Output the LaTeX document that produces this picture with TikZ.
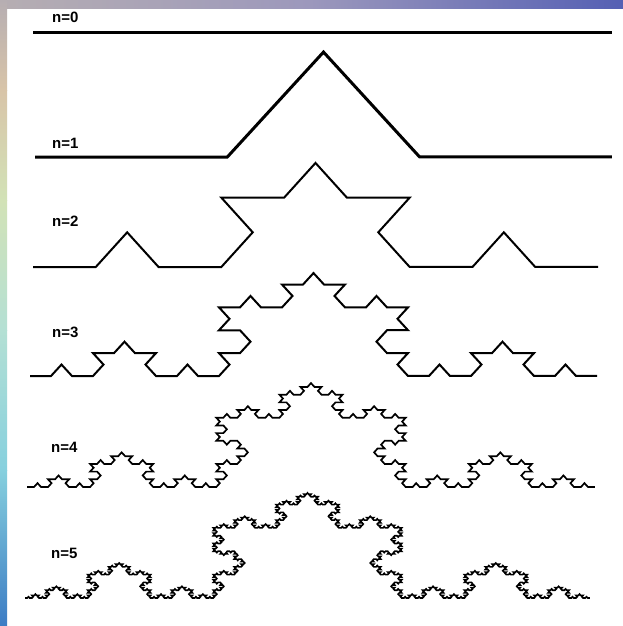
\documentclass[tikz,border=0pt]{standalone}
\usetikzlibrary{lindenmayersystems, positioning}
\usepackage{fontspec}
\setsansfont{Liberation Sans}
\definecolor{stripgray}{HTML}{B6AEB2}
\definecolor{striptan}{HTML}{D8C4A8}
\definecolor{stripgreen}{HTML}{D2E2B6}
\definecolor{stripmint}{HTML}{B4E0D4}
\definecolor{stripcyan}{HTML}{86D0DE}
\definecolor{stripblue}{HTML}{3C7CC4}
\definecolor{toplilac}{HTML}{9C98BC}
\definecolor{topblue}{HTML}{5560B4}

\pgfdeclarelindenmayersystem{Koch curve}{\rule{F -> F+F--F+F}}

\tikzset{
  lvl/.style={font=\sffamily\bfseries\fontsize{15}{15}\selectfont, inner sep=0pt, anchor=west},
  koch/.style={line width=#1, line join=miter, black},
  koch/.default=2pt,
}

\begin{document}
\begin{tikzpicture}[x=1pt, y=-1pt]
  \useasboundingbox (0,0) rectangle (623,626);

  % Frame
  \fill[white] (0,0) rectangle (623,626);
  \shade[left color=stripgray, right color=toplilac] (0,0) rectangle (310,9);
  \shade[left color=toplilac, right color=topblue] (310,0) rectangle (623,9);
  \shade[top color=stripgray, bottom color=striptan] (0,0) rectangle (7,90);
  \shade[top color=striptan, bottom color=stripgreen] (0,90) rectangle (7,200);
  \shade[top color=stripgreen, bottom color=stripmint] (0,200) rectangle (7,330);
  \shade[top color=stripmint, bottom color=stripcyan] (0,330) rectangle (7,470);
  \shade[top color=stripcyan, bottom color=stripblue] (0,470) rectangle (7,626);

  % Labels
  \node[lvl] (n0) at (52,17) {n=0};
  \node[lvl] (n1) at (52,143) {n=1};
  \node[lvl] (n2) at (52,221) {n=2};
  \node[lvl] (n3) at (52,332) {n=3};
  \node[lvl] (n4) at (51,447) {n=4};
  \node[lvl] (n5) at (51,553) {n=5};

  % Curves
  \draw[koch=3pt] (33,33) -- (612,33);
  \draw[koch=3pt, shift={(35,157)}, yscale=0.630] (0,0)
    lindenmayer system [l-system={Koch curve, axiom=F, order=1, step=192.33pt, angle=60}];
  \draw[koch, shift={(33,267)}, yscale=0.638] (0,0)
    lindenmayer system [l-system={Koch curve, axiom=F, order=2, step=62.78pt, angle=60}];
  \draw[koch, shift={(30,376)}, yscale=0.629] (0,0)
    lindenmayer system [l-system={Koch curve, axiom=F, order=3, step=21pt, angle=60}];
  \draw[koch=1.7pt, shift={(27,487)}, yscale=0.634] (0,0)
    lindenmayer system [l-system={Koch curve, axiom=F, order=4, step=7.012pt, angle=60}];
  \draw[koch=1.6pt, shift={(25,598)}, yscale=0.645] (0,0)
    lindenmayer system [l-system={Koch curve, axiom=F, order=5, step=2.325pt, angle=60}];
\end{tikzpicture}
\end{document}
